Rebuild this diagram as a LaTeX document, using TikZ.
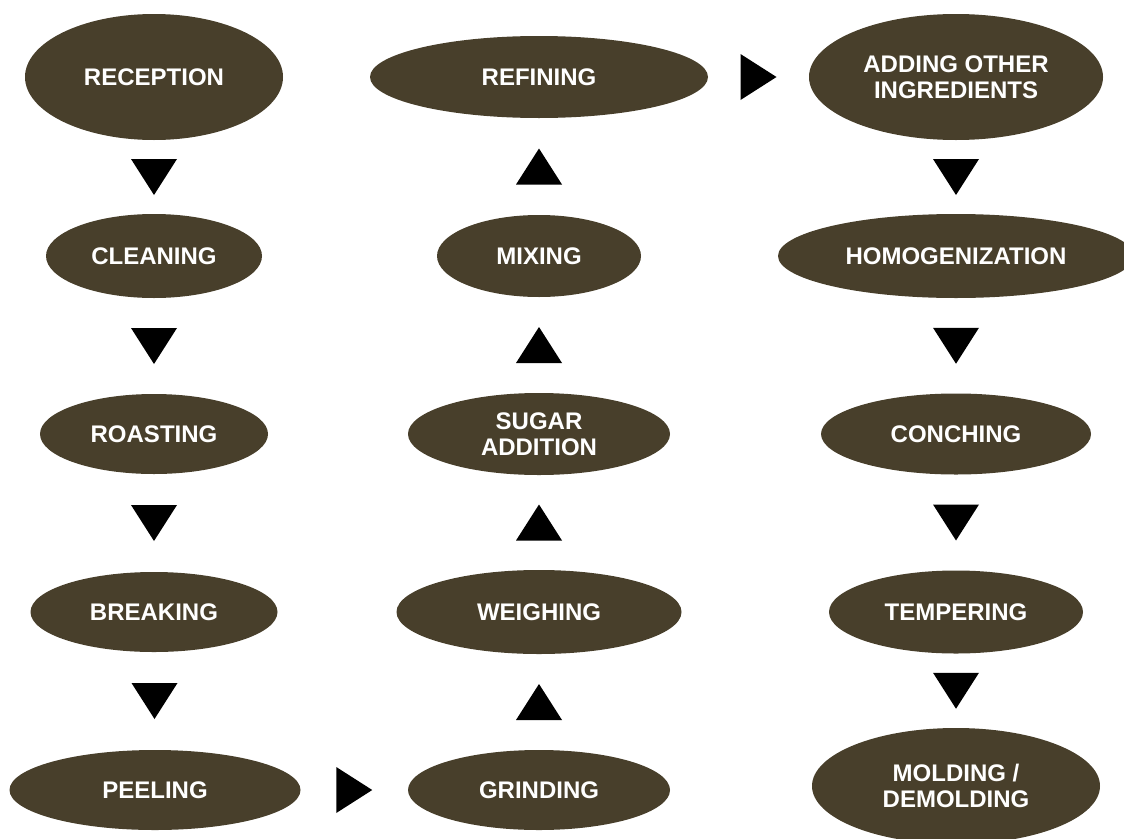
\documentclass[tikz,border=0pt]{standalone}
\usepackage{fontspec}
\setmainfont{Liberation Sans}
\usetikzlibrary{shapes.geometric,calc}
\definecolor{choco}{RGB}{72,63,43}
\begin{document}
\begin{tikzpicture}[x=1pt,y=-1pt,
  stepnode/.style={ellipse, fill=choco, inner sep=0pt, outer sep=0pt, text=white,
    font=\bfseries\fontsize{24}{26.5}\selectfont, align=center},
  downtri/.pic={\fill[black] (-23,-18) -- (23,-18) -- (0,18) -- cycle;},
  uptri/.pic={\fill[black] (-23,18) -- (23,18) -- (0,-18) -- cycle;},
  righttri/.pic={\fill[black] (-18,-23) -- (-18,23) -- (18,0) -- cycle;}
]
\clip (0,0) rectangle (1124,838);
% column 1
\node[stepnode, minimum width=258pt, minimum height=126pt] (rec) at (154,77) {RECEPTION};
\node[stepnode, minimum width=216pt, minimum height=84pt] (cle) at (154,256) {CLEANING};
\node[stepnode, minimum width=228pt, minimum height=80pt] (roa) at (154,434) {ROASTING};
\node[stepnode, minimum width=247pt, minimum height=80pt] (bre) at (154,612) {BREAKING};
\node[stepnode, minimum width=291pt, minimum height=80pt] (pee) at (155,790) {PEELING};
% column 2
\node[stepnode, minimum width=262pt, minimum height=80pt] (gri) at (539,790) {GRINDING};
\node[stepnode, minimum width=285pt, minimum height=84pt] (wei) at (539,612) {WEIGHING};
\node[stepnode, minimum width=262pt, minimum height=82pt] (sug) at (539,434) {SUGAR\\ADDITION};
\node[stepnode, minimum width=204pt, minimum height=82pt] (mix) at (539,256) {MIXING};
\node[stepnode, minimum width=338pt, minimum height=82pt] (ref) at (539,77) {REFINING};
% column 3
\node[stepnode, minimum width=294pt, minimum height=126pt] (add) at (956,77) {ADDING OTHER\\INGREDIENTS};
\node[stepnode, minimum width=356pt, minimum height=84pt] (hom) at (956,256) {HOMOGENIZATION};
\node[stepnode, minimum width=270pt, minimum height=81pt] (con) at (956,434) {CONCHING};
\node[stepnode, minimum width=254pt, minimum height=83pt] (tem) at (956,612) {TEMPERING};
\node[stepnode, minimum width=288pt, minimum height=116pt] (mol) at (956,786) {MOLDING /\\DEMOLDING};
% triangles column 1
\path ($(rec.south)!0.5!(cle.north)$) pic {downtri};
\path ($(cle.south)!0.5!(roa.north)$) pic {downtri};
\path ($(roa.south)!0.5!(bre.north)$) pic {downtri};
\path ($(bre.south)!0.5!(pee.north)$) pic {downtri};
% peeling -> grinding
\path ($(pee.east)!0.5!(gri.west)$) pic {righttri};
% triangles column 2
\path ($(gri.north)!0.5!(wei.south)$) pic {uptri};
\path ($(wei.north)!0.5!(sug.south)$) pic {uptri};
\path ($(sug.north)!0.5!(mix.south)$) pic {uptri};
\path ($(mix.north)!0.5!(ref.south)$) pic {uptri};
% refining -> adding
\path ($(ref.east)!0.5!(add.west)$) pic {righttri};
% triangles column 3
\path ($(add.south)!0.5!(hom.north)$) pic {downtri};
\path ($(hom.south)!0.5!(con.north)$) pic {downtri};
\path ($(con.south)!0.5!(tem.north)$) pic {downtri};
\path ($(tem.south)!0.5!(mol.north)$) pic {downtri};
\end{tikzpicture}
\end{document}
